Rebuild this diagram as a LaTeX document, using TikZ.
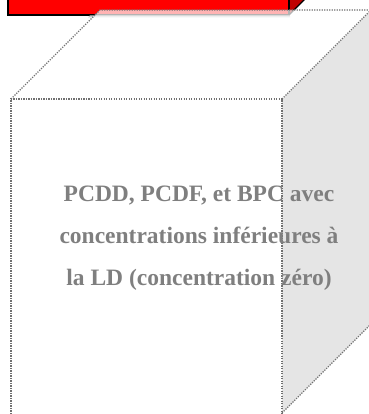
\documentclass[tikz,border=0pt]{standalone}
\usepackage{fontspec}
\setmainfont{Liberation Serif}
\definecolor{sidegray}{HTML}{E5E5E5}
\definecolor{textgray}{HTML}{7F7F7F}
\definecolor{dotgray}{HTML}{707070}
\definecolor{darkred}{HTML}{C00000}

\begin{document}
\begin{tikzpicture}[x=1pt,y=-1pt,
    dotline/.style={dotgray, line width=1.2pt, dash pattern=on 1.2pt off 1.3pt},
    redbox/.style={fill=red, draw=black, line width=1.5pt},
    redside/.style={fill=darkred, draw=black, line width=1.2pt}]
                \useasboundingbox (0,0) rectangle (368,414);
                % Box side face
                \fill[sidegray] (282,99) -- (371,10) -- (371,324) -- (282,413) -- cycle;
                
                % Red block on top
                \draw[redside] (289,15) -- (305,-1) -- (305,-10) -- (289,-10) -- cycle;
                \draw[redbox] (8,-10) rectangle (289,15);
                \fill[black!22] (90,15.5) -- (290,15.5) -- (290,17.5) -- (88,17.5) -- cycle;
                \fill[white, opacity=0.7] (11,99) -- (282,99) -- (371,10) -- (100,10) -- cycle;
                
                % Box edges
                \draw[dotline] (11,414) -- (11,99) -- (282,99) -- (282,414);
                \draw[dotline] (11,99) -- (100,10) -- (371,10);
                \draw[dotline] (282,99) -- (371,10);
                \draw[dotline] (282,413) -- (371,324);
                
                % Label
                \node[textgray, align=center, font={\fontsize{23.5}{42}\selectfont\bfseries}] (label) at (199,238)
                  {PCDD, PCDF, et BPC avec\\ concentrations inférieures à\\ la LD (concentration zéro)};
            \end{tikzpicture}
\end{document}
